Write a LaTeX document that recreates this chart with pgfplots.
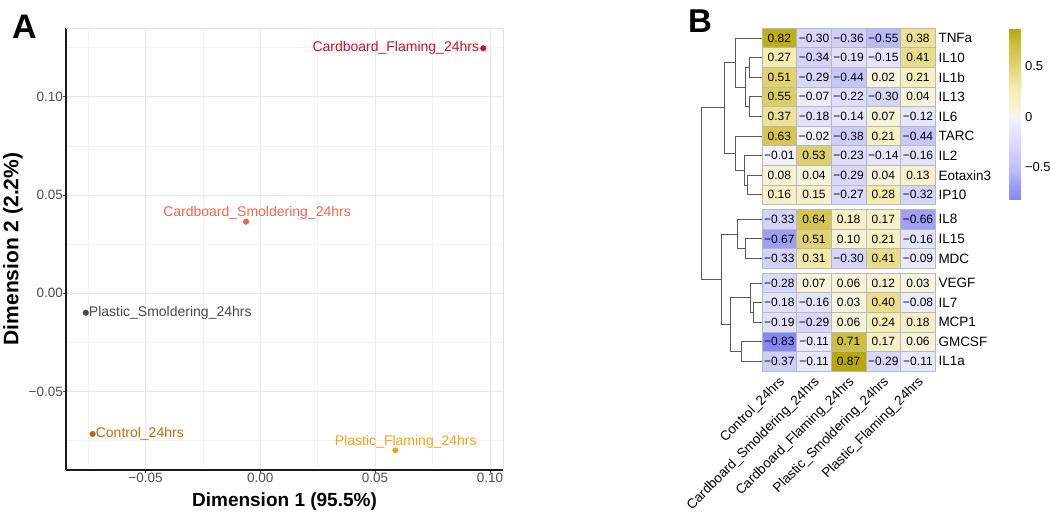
\documentclass[border=0pt]{standalone}
\usepackage{fontspec}
\setmainfont{Liberation Sans}
\usepackage{pgfplots}
\usepackage{pgfplotstable}
\pgfplotsset{compat=1.18}

\definecolor{cfl}{RGB}{208,16,30}
\definecolor{csm}{RGB}{245,100,75}
\definecolor{psm}{RGB}{71,71,71}
\definecolor{ctl}{RGB}{187,106,12}
\definecolor{pfl}{RGB}{242,163,27}
\definecolor{ticklab}{RGB}{77,77,77}

\pgfdeclareplotmark{cell}{%
  \pgfpathrectangle{\pgfpoint{-17.33pt}{-9.8pt}}{\pgfpoint{34.66pt}{19.6pt}}%
  \pgfusepathqfillstroke}

% heatmap: x = sample column, y = row position (bottom = 0), v = value, lbl = printed value
\pgfplotstableread{
x y v lbl
1 16.5 0.82 0.82
2 16.5 -0.30 −0.30
3 16.5 -0.36 −0.36
4 16.5 -0.55 −0.55
5 16.5 0.38 0.38
1 15.5 0.27 0.27
2 15.5 -0.34 −0.34
3 15.5 -0.19 −0.19
4 15.5 -0.15 −0.15
5 15.5 0.41 0.41
1 14.5 0.51 0.51
2 14.5 -0.29 −0.29
3 14.5 -0.44 −0.44
4 14.5 0.02 0.02
5 14.5 0.21 0.21
1 13.5 0.55 0.55
2 13.5 -0.07 −0.07
3 13.5 -0.22 −0.22
4 13.5 -0.30 −0.30
5 13.5 0.04 0.04
1 12.5 0.37 0.37
2 12.5 -0.18 −0.18
3 12.5 -0.14 −0.14
4 12.5 0.07 0.07
5 12.5 -0.12 −0.12
1 11.5 0.63 0.63
2 11.5 -0.02 −0.02
3 11.5 -0.38 −0.38
4 11.5 0.21 0.21
5 11.5 -0.44 −0.44
1 10.5 -0.01 −0.01
2 10.5 0.53 0.53
3 10.5 -0.23 −0.23
4 10.5 -0.14 −0.14
5 10.5 -0.16 −0.16
1 9.5 0.08 0.08
2 9.5 0.04 0.04
3 9.5 -0.29 −0.29
4 9.5 0.04 0.04
5 9.5 0.13 0.13
1 8.5 0.16 0.16
2 8.5 0.15 0.15
3 8.5 -0.27 −0.27
4 8.5 0.28 0.28
5 8.5 -0.32 −0.32
1 7.25 -0.33 −0.33
2 7.25 0.64 0.64
3 7.25 0.18 0.18
4 7.25 0.17 0.17
5 7.25 -0.66 −0.66
1 6.25 -0.67 −0.67
2 6.25 0.51 0.51
3 6.25 0.10 0.10
4 6.25 0.21 0.21
5 6.25 -0.16 −0.16
1 5.25 -0.33 −0.33
2 5.25 0.31 0.31
3 5.25 -0.30 −0.30
4 5.25 0.41 0.41
5 5.25 -0.09 −0.09
1 4 -0.28 −0.28
2 4 0.07 0.07
3 4 0.06 0.06
4 4 0.12 0.12
5 4 0.03 0.03
1 3 -0.18 −0.18
2 3 -0.16 −0.16
3 3 0.03 0.03
4 3 0.40 0.40
5 3 -0.08 −0.08
1 2 -0.19 −0.19
2 2 -0.29 −0.29
3 2 0.06 0.06
4 2 0.24 0.24
5 2 0.18 0.18
1 1 -0.83 −0.83
2 1 -0.11 −0.11
3 1 0.71 0.71
4 1 0.17 0.17
5 1 0.06 0.06
1 0 -0.37 −0.37
2 0 -0.11 −0.11
3 0 0.87 0.87
4 0 -0.29 −0.29
5 0 -0.11 −0.11
}\heat

\begin{document}
\begin{tikzpicture}
\useasboundingbox (0pt,0pt) rectangle (1050pt,-522pt);

\node[anchor=north west, inner sep=0pt, font=\fontsize{34}{34}\selectfont\bfseries] at (12pt,-15pt) {A};
\node[anchor=north west, inner sep=0pt, font=\fontsize{33}{33}\selectfont\bfseries] at (688pt,-10pt) {B};

% ---------------- Panel A ----------------
\begin{axis}[
  at={(66pt,-470pt)}, anchor=south west,
  scale only axis, width=437pt, height=442pt,
  xmin=-0.0846, xmax=0.1057, ymin=-0.0899, ymax=0.1349,
  axis x line*=bottom, axis y line*=left,
  axis line style={black!90, line width=1.1pt},
  xtick={-0.05,0,0.05,0.1}, xticklabels={−0.05,0.00,0.05,0.10},
  ytick={-0.05,0,0.05,0.1}, yticklabels={−0.05,0.00,0.05,0.10},
  minor xtick={-0.075,-0.025,0.025,0.075},
  minor ytick={-0.075,-0.025,0.025,0.075,0.125},
  grid=both,
  major grid style={draw=black!9, line width=0.7pt},
  minor grid style={draw=black!5, line width=0.5pt},
  tick align=outside, major tick length=3pt, minor tick length=0pt,
  major tick style={black!70, line width=0.8pt},
  xticklabel style={font=\fontsize{13.5}{13.5}\selectfont, text=ticklab, inner sep=0pt, anchor=north},
  yticklabel style={font=\fontsize{13.5}{13.5}\selectfont, text=ticklab, inner sep=0pt, anchor=east},
  xlabel={Dimension 1 (95.5\%)}, ylabel={Dimension 2 (2.2\%)},
  xlabel style={font=\fontsize{19}{19}\selectfont\bfseries, at={(axis description cs:0.5,-0.05)}, anchor=north, inner sep=0pt},
  ylabel style={font=\fontsize{21}{21}\selectfont\bfseries, at={(axis description cs:-0.0984,0.5)}, anchor=south, inner sep=0pt},
  clip=false,
]
\draw[black!12, line width=0.7pt] (rel axis cs:0,1) -- (rel axis cs:1,1) -- (rel axis cs:1,0);
\addplot[only marks, mark=*, mark size=2.8pt, color=cfl, point meta=explicit symbolic,
  nodes near coords, nodes near coords align={anchor=east},
  every node near coord/.append style={anchor=east, inner sep=0pt, xshift=-4pt, font=\fontsize{14}{14}\selectfont, text=cfl}]
  coordinates {(0.0971,0.1246) [Cardboard\_Flaming\_24hrs]};
\addplot[only marks, mark=*, mark size=2.8pt, color=csm, point meta=explicit symbolic,
  nodes near coords, nodes near coords align={anchor=base},
  every node near coord/.append style={anchor=base, inner sep=0pt, xshift=11pt, yshift=5pt, font=\fontsize{14}{14}\selectfont, text=csm}]
  coordinates {(-0.0062,0.0364) [Cardboard\_Smoldering\_24hrs]};
\addplot[only marks, mark=*, mark size=2.8pt, color=psm, point meta=explicit symbolic,
  nodes near coords, nodes near coords align={anchor=west},
  every node near coord/.append style={anchor=west, inner sep=0pt, xshift=3pt, font=\fontsize{14}{14}\selectfont, text=psm}]
  coordinates {(-0.0760,-0.0099) [Plastic\_Smoldering\_24hrs]};
\addplot[only marks, mark=*, mark size=2.8pt, color=ctl, point meta=explicit symbolic,
  nodes near coords, nodes near coords align={anchor=west},
  every node near coord/.append style={anchor=west, inner sep=0pt, xshift=3pt, font=\fontsize{14}{14}\selectfont, text=ctl}]
  coordinates {(-0.0730,-0.0716) [Control\_24hrs]};
\addplot[only marks, mark=*, mark size=2.8pt, color=pfl, point meta=explicit symbolic,
  nodes near coords, nodes near coords align={anchor=base},
  every node near coord/.append style={anchor=base, inner sep=0pt, xshift=10.5pt, yshift=4.6pt, font=\fontsize{14}{14}\selectfont, text=pfl}]
  coordinates {(0.0588,-0.0799) [Plastic\_Flaming\_24hrs]};
\end{axis}

% ---------------- Panel B: dendrogram ----------------
\begin{axis}[
  at={(763pt,-28.2pt)}, anchor=north east,
  scale only axis, width=62pt, height=343pt,
  xmin=0, xmax=6.2, x dir=reverse, ymin=-0.5, ymax=17,
  hide axis, clip=false,
  dend/.style={color=black!65, line width=0.9pt, mark=none, solid},
]
\addplot[dend] coordinates {(0,15.5)(1.37,15.5)(1.37,14.5)(0,14.5)};
\addplot[dend] coordinates {(0,13.5)(1.37,13.5)(1.37,12.5)(0,12.5)};
\addplot[dend] coordinates {(1.37,15)(1.8,15)(1.8,13)(1.37,13)};
\addplot[dend] coordinates {(0,16.5)(2.8,16.5)(2.8,14)(1.8,14)};
\addplot[dend] coordinates {(0,9.5)(1.57,9.5)(1.57,8.5)(0,8.5)};
\addplot[dend] coordinates {(0,10.5)(1.9,10.5)(1.9,9)(1.57,9)};
\addplot[dend] coordinates {(0,11.5)(2.8,11.5)(2.8,9.75)(1.9,9.75)};
\addplot[dend] coordinates {(2.8,15.25)(3.9,15.25)(3.9,10.625)(2.8,10.625)};
\addplot[dend] coordinates {(0,6.25)(1.8,6.25)(1.8,5.25)(0,5.25)};
\addplot[dend] coordinates {(0,7.25)(2.53,7.25)(2.53,5.75)(1.8,5.75)};
\addplot[dend] coordinates {(0,3)(0.97,3)(0.97,2)(0,2)};
\addplot[dend] coordinates {(0,4)(1.3,4)(1.3,2.5)(0.97,2.5)};
\addplot[dend] coordinates {(0,1)(2.13,1)(2.13,0)(0,0)};
\addplot[dend] coordinates {(1.3,3.25)(3.3,3.25)(3.3,0.5)(2.13,0.5)};
\addplot[dend] coordinates {(2.53,6.5)(4.13,6.5)(4.13,1.875)(3.3,1.875)};
\addplot[dend] coordinates {(3.9,12.9375)(6.13,12.9375)(6.13,4.1875)(4.13,4.1875)};
\end{axis}

% ---------------- Panel B: heatmap ----------------
\begin{axis}[
  at={(762pt,-28.2pt)}, anchor=north west,
  scale only axis, width=173.3pt, height=343pt,
  xmin=0.5, xmax=5.5, ymin=-0.5, ymax=17,
  axis line style={draw=none},
  xtick={1,2,3,4,5},
  xticklabels={Control\_24hrs,Cardboard\_Smoldering\_24hrs,Cardboard\_Flaming\_24hrs,Plastic\_Smoldering\_24hrs,Plastic\_Flaming\_24hrs},
  xticklabel style={font=\fontsize{13.5}{13.5}\selectfont, inner sep=0pt, xshift=-1pt, yshift=-4pt, rotate=45, anchor=north east},
  ytick={0,1,2,3,4,5.25,6.25,7.25,8.5,9.5,10.5,11.5,12.5,13.5,14.5,15.5,16.5},
  yticklabels={IL1a,GMCSF,MCP1,IL7,VEGF,MDC,IL15,IL8,IP10,Eotaxin3,IL2,TARC,IL6,IL13,IL1b,IL10,TNFa},
  yticklabel pos=right,
  yticklabel style={font=\fontsize{13.5}{13.5}\selectfont, anchor=west, inner sep=0pt, xshift=3pt},
  major tick length=0pt, tick style={draw=none},
  colormap={hm}{rgb255(0pt)=(135,135,245); rgb255(15pt)=(158,158,246); rgb255(27pt)=(186,186,248);
    rgb255(52pt)=(214,214,250); rgb255(71pt)=(232,232,252); rgb255(82pt)=(243,243,255);
    rgb255(83pt)=(247,245,228); rgb255(99pt)=(246,240,198); rgb255(109pt)=(246,237,178);
    rgb255(133pt)=(224,210,112); rgb255(153pt)=(205,190,60); rgb255(169pt)=(183,167,8)},
  point meta min=-0.82, point meta max=0.87,
  colorbar,
  colorbar style={at={(parent axis.north east)}, anchor=north west, xshift=65.4pt,
    scale only axis, width=11.6pt, height=171.7pt,
    ytick={-0.5,0,0.5}, yticklabels={−0.5,0,0.5},
    yticklabel style={font=\fontsize{13}{13}\selectfont, anchor=west, inner sep=0pt, xshift=4pt},
    axis line style={draw=none}, major tick length=0pt, tick style={draw=none}},
  clip=false,
]
\addplot[scatter, only marks, mark=cell,
  scatter/use mapped color={draw=black!28, fill=mapped color, line width=0.8pt},
  point meta=explicit]
  table[x=x, y=y, meta=v] {\heat};
\addplot[only marks, mark=*, mark size=0pt, mark options={draw=none, fill=none},
  point meta=explicit symbolic,
  nodes near coords, nodes near coords align={anchor=center},
  every node near coord/.append style={anchor=center, inner sep=0pt, text=black, font=\fontsize{12}{12}\selectfont}]
  table[x=x, y=y, meta=lbl] {\heat};
\end{axis}
\end{tikzpicture}
\end{document}
